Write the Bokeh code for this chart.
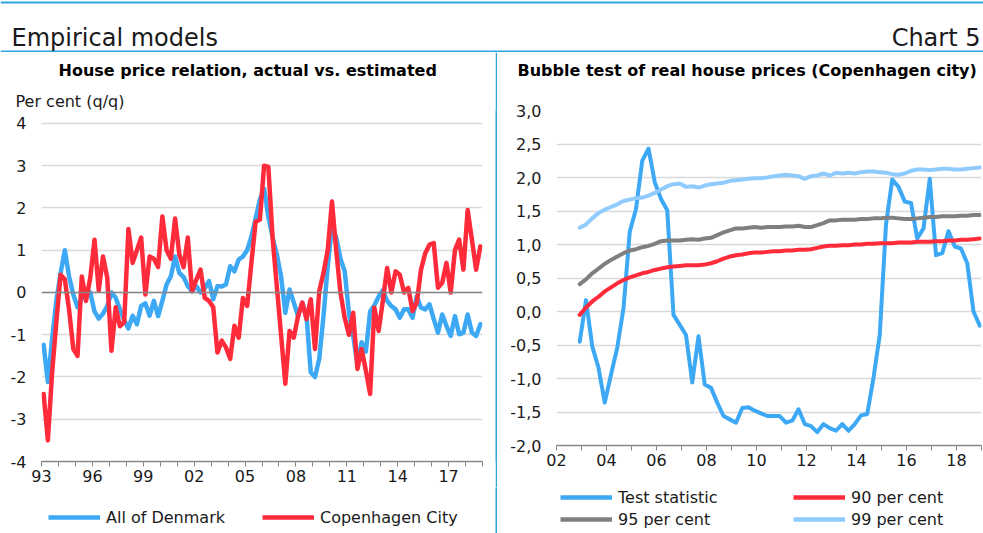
import numpy as np
from bokeh.plotting import figure
from bokeh.models import (Range1d, FixedTicker, Span, Label, Legend, LegendItem,
                          ColumnDataSource, Title)
from bokeh.layouts import column, row
from bokeh.embed import file_html
from bokeh.resources import INLINE

# ---------------- data ----------------
# Left chart: quarterly 1993Q1 - 2018Q4, per cent (q/q)
LEFT_START_YEAR = 1993
all_of_denmark = [
    -1.24, -2.12, -1.1, -0.2, 0.45, 1.0, 0.38, -0.05, -0.35, -0.15,
    0.07, 0.0, -0.45, -0.62, -0.5, -0.32, 0.0, -0.13, -0.4, -0.65,
    -0.85, -0.55, -0.75, -0.32, -0.26, -0.55, -0.2, -0.56, -0.2, 0.19,
    0.38, 0.85, 0.46, 0.37, 0.15, 0.03, 0.15, 0.0, 0.1, 0.27,
    -0.16, 0.15, 0.14, 0.19, 0.62, 0.5, 0.78, 0.85, 1.0, 1.32,
    1.75, 2.2, 2.46, 1.79, 1.3, 0.9, 0.38, -0.48, 0.07, -0.24,
    -0.56, -0.24, -0.56, -1.89, -2.0, -1.57, -0.56, 0.62, 1.56, 1.3,
    0.8, 0.5, -0.48, -1.03, -1.7, -1.18, -1.4, -0.45, -0.3, -0.1,
    0.05, -0.2, -0.32, -0.4, -0.6, -0.4, -0.4, -0.6, -0.09, -0.36,
    -0.4, -0.28, -0.63, -0.95, -0.52, -0.79, -1.03, -0.56, -0.99, -0.95,
    -0.52, -0.95, -1.03, -0.75,
]
copenhagen_city = [
    -2.4, -3.5, -1.9, -0.7, 0.42, 0.31, -0.4, -1.34, -1.5, 0.38,
    -0.2, 0.35, 1.25, 0.05, 0.85, 0.35, -1.38, -0.35, -0.8, -0.7,
    1.5, 0.7, 1.0, 1.3, -0.05, 0.85, 0.8, 0.6, 1.8, 1.0,
    0.8, 1.75, 0.9, 0.6, 1.3, 0.03, 0.3, 0.54, -0.13, -0.2,
    -0.35, -1.42, -1.14, -1.3, -1.57, -0.79, -1.07, -0.13, -0.32, 0.7,
    1.68, 1.72, 3.0, 2.97, 1.29, 0.14, -1.01, -2.16, -0.91, -1.07,
    -0.56, -0.24, -0.63, -0.16, -1.34, 0.03, 0.46, 1.0, 2.15, 1.0,
    0.0, -0.6, -1.0, -0.48, -1.81, -1.34, -1.85, -2.4, -0.36, -0.91,
    -0.2, 0.58, 0.0, 0.5, 0.42, 0.0, 0.11, -0.44, -0.24, 0.54,
    0.93, 1.13, 1.17, 0.11, 0.23, 0.7, 0.0, 1.0, 1.25, 0.54,
    1.95, 1.25, 0.54, 1.09,
]
left_years = list(range(1993, 2020))
left_tick_labels = {1993: "93", 1996: "96", 1999: "99", 2002: "02", 2005: "05",
                    2008: "08", 2011: "11", 2014: "14", 2017: "17"}
left_y_ticks = [-4, -3, -2, -1, 0, 1, 2, 3, 4]

# Right chart: quarterly 2002Q4 - 2018Q4
RIGHT_START = 2002.93
test_statistic = [
    -0.45, 0.17, -0.52, -0.84, -1.36, -0.94, -0.54, 0.05, 1.19, 1.53,
    2.25, 2.43, 1.93, 1.68, 1.51, -0.05, -0.2, -0.35, -1.06, -0.37,
    -1.09, -1.14, -1.36, -1.56, -1.61, -1.66, -1.44, -1.43, -1.48, -1.52,
    -1.56, -1.56, -1.56, -1.66, -1.63, -1.46, -1.68, -1.71, -1.8, -1.68,
    -1.74, -1.78, -1.68, -1.78, -1.68, -1.55, -1.53, -0.99, -0.35, 1.3,
    1.97, 1.86, 1.64, 1.62, 1.09, 1.24, 1.98, 0.84, 0.87, 1.2,
    0.97, 0.94, 0.72, 0.0, -0.21,
]
per_cent_90 = [
    -0.05, 0.06, 0.15, 0.22, 0.3, 0.36, 0.42, 0.47, 0.51, 0.54,
    0.57, 0.59, 0.62, 0.64, 0.66, 0.67, 0.68, 0.69, 0.69, 0.69,
    0.70, 0.72, 0.75, 0.79, 0.82, 0.84, 0.85, 0.87, 0.88, 0.88,
    0.89, 0.90, 0.90, 0.91, 0.91, 0.92, 0.92, 0.93, 0.95, 0.97,
    0.98, 0.98, 0.99, 0.99, 1.0, 1.0, 1.01, 1.01, 1.02, 1.02,
    1.02, 1.03, 1.03, 1.03, 1.04, 1.04, 1.04, 1.05, 1.05, 1.06,
    1.06, 1.07, 1.07, 1.08, 1.09,
]
per_cent_95 = [
    0.41, 0.48, 0.57, 0.64, 0.71, 0.77, 0.82, 0.87, 0.91, 0.93,
    0.96, 0.98, 1.01, 1.05, 1.06, 1.06, 1.06, 1.07, 1.08, 1.07,
    1.09, 1.1, 1.14, 1.18, 1.21, 1.24, 1.24, 1.25, 1.26, 1.25,
    1.26, 1.26, 1.26, 1.27, 1.27, 1.28, 1.26, 1.26, 1.29, 1.32,
    1.36, 1.36, 1.37, 1.37, 1.37, 1.38, 1.38, 1.39, 1.39, 1.4,
    1.4, 1.39, 1.38, 1.38, 1.39, 1.4, 1.41, 1.41, 1.42, 1.42,
    1.42, 1.43, 1.43, 1.44, 1.44,
]
per_cent_99 = [
    1.25, 1.3, 1.39, 1.47, 1.52, 1.56, 1.6, 1.65, 1.67, 1.69,
    1.7, 1.73, 1.77, 1.82, 1.87, 1.9, 1.91, 1.86, 1.87, 1.85,
    1.88, 1.9, 1.91, 1.92, 1.95, 1.96, 1.97, 1.98, 1.99, 1.99,
    2.0, 2.02, 2.03, 2.04, 2.03, 2.02, 1.98, 2.02, 2.03, 2.06,
    2.03, 2.07, 2.06, 2.07, 2.06, 2.08, 2.09, 2.09, 2.08, 2.07,
    2.05, 2.04, 2.06, 2.1, 2.12, 2.12, 2.11, 2.12, 2.13, 2.13,
    2.12, 2.12, 2.13, 2.14, 2.15,
]
right_years = list(range(2002, 2020))
right_tick_labels = {2002: "02", 2004: "04", 2006: "06", 2008: "08", 2010: "10",
                     2012: "12", 2014: "14", 2016: "16", 2018: "18"}
right_y_ticks = [-2.0, -1.5, -1.0, -0.5, 0.0, 0.5, 1.0, 1.5, 2.0, 2.5, 3.0]
right_y_labels = ["-2,0", "-1,5", "-1,0", "-0,5", "0,0", "0,5", "1,0", "1,5", "2,0", "2,5", "3,0"]

# ---------------- style / geometry ----------------
FONT = "DejaVu Sans"
FS = "16px"
BLUE = "#3DA9F5"
RED = "#FF2A3A"
GREY = "#7F7F7F"
LBLUE = "#8FCBFD"
FRAME = "#2EA6DD"
GRID = "#D9D9D9"
AXIS = "#868686"
TXT = "#1A1A1A"

W = 983
HDR_H = 52
CHART_H = 435
LEG_H = 46
TOP_BORDER = 56      # frame top at page y = 108
BOTTOM_BORDER = 26
RIGHT_LIFT = 16      # right chart's x axis sits 16 px higher than the left one
FRAME_H = CHART_H - TOP_BORDER - BOTTOM_BORDER
LEFT_W, SEP_W = 495, 2
RIGHT_W = W - LEFT_W - SEP_W

# left chart: 4 lies 13 px below the frame top, -4 at the frame bottom
l_px_per_unit = (FRAME_H - 13) / 8.0
left_y_range = Range1d(-4, 4 + 13 / l_px_per_unit)

left_x = [LEFT_START_YEAR + (i + 0.5) / 4 for i in range(len(all_of_denmark))]
right_x = [RIGHT_START + i * 0.25 for i in range(len(test_statistic))]


def style_axes(p, xticks, xlabels, yticks, ylabels):
    xa = p.xaxis[0]
    xa.ticker = FixedTicker(ticks=xticks)
    xa.major_label_overrides = {t: xlabels.get(t, "") for t in xticks}
    xa.axis_line_color = AXIS
    xa.axis_line_width = 1.5
    xa.major_tick_line_color = AXIS
    xa.major_tick_out = 5
    xa.major_tick_in = 0
    xa.minor_tick_line_color = None
    xa.major_label_text_font = FONT
    xa.major_label_text_font_size = FS
    xa.major_label_text_color = TXT
    xa.major_label_standoff = 3
    ya = p.yaxis[0]
    ya.ticker = FixedTicker(ticks=yticks)
    ya.major_label_overrides = dict(zip(yticks, ylabels))
    ya.axis_line_color = None
    ya.major_tick_line_color = None
    ya.major_tick_out = 0
    ya.major_tick_in = 0
    ya.minor_tick_line_color = None
    ya.major_label_text_font = FONT
    ya.major_label_text_font_size = FS
    ya.major_label_text_color = TXT
    ya.major_label_standoff = 15
    p.xgrid.visible = False
    p.ygrid.ticker = FixedTicker(ticks=yticks[1:])
    p.ygrid.grid_line_color = GRID
    p.ygrid.grid_line_width = 1.5
    p.outline_line_color = None


def title(text, offset, standoff, bold, valign):
    return Title(text=text, align="left", offset=offset, standoff=standoff,
                 vertical_align=valign, text_font=FONT, text_font_size=FS,
                 text_font_style="bold" if bold else "normal",
                 text_color="#000000" if bold else TXT)


def blank_fig(w, h, fill=None):
    f = figure(width=w, height=h, x_range=Range1d(0, w), y_range=Range1d(0, h),
               output_backend="svg", toolbar_location=None, min_border=0,
               x_axis_type=None, y_axis_type=None)
    f.outline_line_color = None
    if fill:
        f.background_fill_color = fill
        f.border_fill_color = fill
    return f


def make_legend(items, label_width, loc):
    return Legend(items=items, orientation="horizontal", ncols=2, location=loc,
                  margin=0, padding=0, spacing=2, glyph_width=52, glyph_height=20,
                  label_standoff=6, label_width=label_width, label_height=20,
                  border_line_color=None, background_fill_alpha=0,
                  label_text_font=FONT, label_text_font_size=FS, label_text_color=TXT)


# ---------------- header ----------------
hdr = blank_fig(W, HDR_H)
hdr.add_layout(Span(location=HDR_H - 2, dimension="width", line_color=FRAME, line_width=2))
hdr.add_layout(Span(location=1, dimension="width", line_color=FRAME, line_width=2))
hdr.add_layout(Label(x=11, y=15, text="Empirical models", text_font=FONT,
                     text_font_size="24px", text_color=TXT, text_baseline="alphabetic"))
hdr.add_layout(Label(x=W - 3, y=15, text="Chart 5", text_font=FONT, text_align="right",
                     text_font_size="24px", text_color=TXT, text_baseline="alphabetic"))

# ---------------- left chart ----------------
left = figure(width=LEFT_W, height=CHART_H, x_range=Range1d(1993, 2019), y_range=left_y_range,
              output_backend="svg", toolbar_location=None,
              min_border_left=41, min_border_right=13,
              min_border_top=TOP_BORDER, min_border_bottom=BOTTOM_BORDER)
style_axes(left, left_years, left_tick_labels, left_y_ticks, [str(v) for v in left_y_ticks])
left.add_layout(Span(location=0, dimension="width", line_color=AXIS, line_width=1.5))
src_l = ColumnDataSource(dict(x=left_x, dk=all_of_denmark, cph=copenhagen_city))
left.line("x", "dk", source=src_l, line_color=BLUE, line_width=4.5,
          line_join="round", line_cap="round")
left.line("x", "cph", source=src_l, line_color=RED, line_width=4.5,
          line_join="round", line_cap="round")
left.add_layout(title("Per cent (q/q)", -26, 0, False, "bottom"), "above")
left.add_layout(title("House price relation, actual vs. estimated", 17, 16, True, "top"), "above")

# ---------------- separators ----------------
sep = blank_fig(SEP_W, CHART_H, FRAME)
sep2 = blank_fig(SEP_W, LEG_H, FRAME)

# ---------------- right chart ----------------
right = figure(width=RIGHT_W, height=CHART_H - RIGHT_LIFT, x_range=Range1d(2002, 2019),
               y_range=Range1d(-2, 3),
               output_backend="svg", toolbar_location=None,
               min_border_left=59, min_border_right=2,
               min_border_top=TOP_BORDER, min_border_bottom=BOTTOM_BORDER)
style_axes(right, right_years, right_tick_labels, right_y_ticks, right_y_labels)
src_r = ColumnDataSource(dict(x=right_x, t=test_statistic, p90=per_cent_90,
                              p95=per_cent_95, p99=per_cent_99))
for col, colr in (("t", BLUE), ("p90", RED), ("p95", GREY), ("p99", LBLUE)):
    right.line("x", col, source=src_r, line_color=colr, line_width=4,
               line_join="round", line_cap="round")
right.add_layout(title(" ", 0, 0, False, "bottom"), "above")
right.add_layout(title("Bubble test of real house prices (Copenhagen city)", -39, 16, True, "top"), "above")
right_col = column(right, blank_fig(RIGHT_W, RIGHT_LIFT))

# ---------------- legends ----------------
legL = blank_fig(LEFT_W, LEG_H)
legR = blank_fig(RIGHT_W, LEG_H)


def legend_glyph(fig, color):
    src = ColumnDataSource(dict(x=np.array([np.nan]), y=np.array([np.nan])))
    return fig.line("x", "y", source=src, line_color=color, line_width=4.5)


g_dk = legend_glyph(legL, BLUE)
g_cph = legend_glyph(legL, RED)
legL.add_layout(make_legend([LegendItem(label="All of Denmark", renderers=[g_dk]),
                             LegendItem(label="Copenhagen City", renderers=[g_cph])],
                            154, (48, 6)))
g_t = legend_glyph(legR, BLUE)
g_90 = legend_glyph(legR, RED)
g_95 = legend_glyph(legR, GREY)
g_99 = legend_glyph(legR, LBLUE)
legR.add_layout(make_legend([LegendItem(label="Test statistic", renderers=[g_t]),
                             LegendItem(label="90 per cent", renderers=[g_90]),
                             LegendItem(label="95 per cent", renderers=[g_95]),
                             LegendItem(label="99 per cent", renderers=[g_99])],
                            173, (63, 4)))

layout = column(hdr, row(left, sep, right_col), row(legL, sep2, legR))
open("out.html", "w").write(file_html(layout, INLINE))
